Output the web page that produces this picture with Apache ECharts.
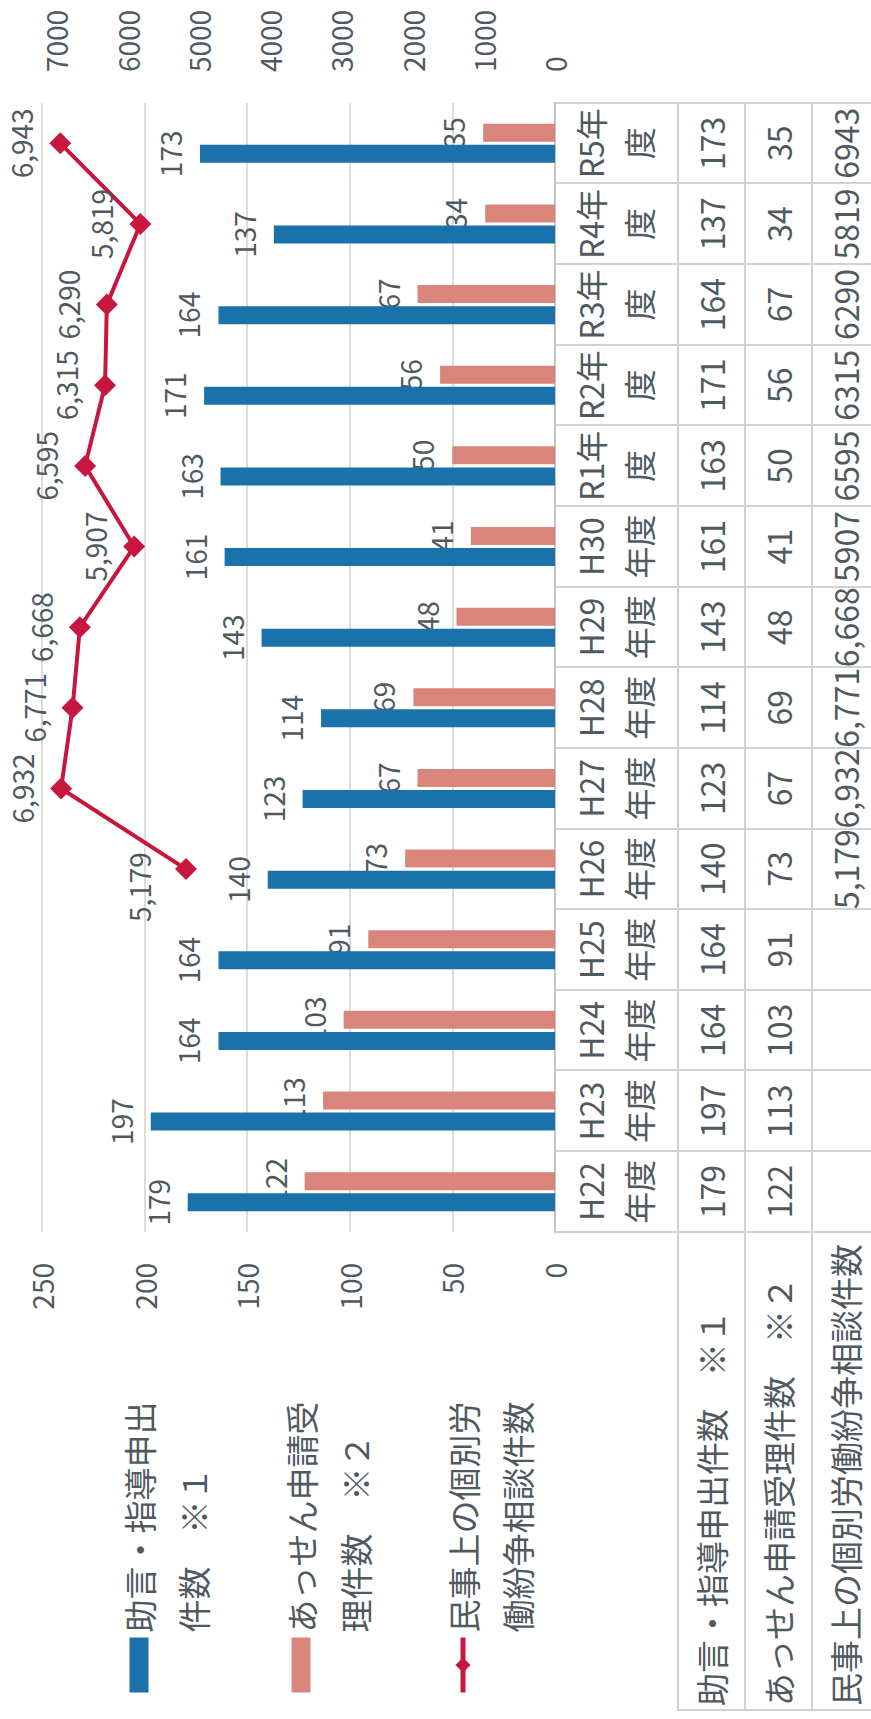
<!DOCTYPE html>
<html lang="ja">
<head>
<meta charset="utf-8">
<title>個別労働紛争解決制度の利用状況</title>
<script src="https://cdn.jsdelivr.net/npm/echarts@6/dist/echarts.min.js"></script>
<style>
  html, body { margin: 0; padding: 0; background: #ffffff; overflow: hidden; }
  #stage { position: relative; width: 871px; height: 1719px; overflow: hidden; }
  /* The chart is laid out in landscape and turned a quarter turn so it reads upward */
  #chart {
    position: absolute; left: 0; top: 0;
    width: 1719px; height: 871px;
    transform-origin: 0 0;
    transform: translate(0, 1719px) rotate(-90deg);
  }
</style>
</head>
<body>
<div id="stage"><div id="chart"></div></div>
<script>
// ---- data ----
const categories = ['H22年度', 'H23年度', 'H24年度', 'H25年度', 'H26年度', 'H27年度', 'H28年度',
                    'H29年度', 'H30年度', 'R1年度', 'R2年度', 'R3年度', 'R4年度', 'R5年度'];
const adviceCounts = [179, 197, 164, 164, 140, 123, 114, 143, 161, 163, 171, 164, 137, 173];
const mediationCounts = [122, 113, 103, 91, 73, 67, 69, 48, 41, 50, 56, 67, 34, 35];
const consultationCounts = [null, null, null, null, 5179, 6932, 6771, 6668, 5907, 6595, 6315, 6290, 5819, 6943];
const seriesNames = ['助言・指導申出件数　※１', 'あっせん申請受理件数　※２', '民事上の個別労働紛争相談件数'];
const leftTicks = { min: 0, max: 250, interval: 50 };
const rightTicks = { min: 0, max: 7200, interval: 1000 };
// years whose consultation count is written with a thousands separator in the table
const tableCommaYears = ['H26年度', 'H27年度', 'H28年度', 'H29年度'];

// ---- helpers ----
const withComma = v => String(v).replace(/\B(?=(\d{3})+(?!\d))/g, ',');
const wrapAt = (s, n) => s.slice(0, n) + '\n' + s.slice(n);
const tableRows = [
  adviceCounts.map(v => String(v)),
  mediationCounts.map(v => String(v)),
  consultationCounts.map((v, i) => v == null ? '' :
    (tableCommaYears.indexOf(categories[i]) >= 0 ? withComma(v) : String(v)))
];
const firstConsultIndex = consultationCounts.findIndex(v => v != null);

// ---- styling / layout ----
const TEXT = '#4f5a5f';
const FONT = '"Noto Sans CJK JP", "Noto Sans", sans-serif';
const BLUE = '#1b72ab';
const PINK = '#d9857c';
const RED = '#c8173f';
const GRID_LINE = '#dcdcdc';
const TABLE_LINE = '#d2d2d2';

const plotLeft = 487, plotWidth = 1129, plotTop = 42, plotHeight = 513;
const tableTop = plotTop + plotHeight;   // category header row starts at the axis line
const headerHeight = 123;
const rowHeight = 66.7;
const tableLeft = 9;
const legendLine = 54;

const grids = [
  // 0: plot area
  { left: plotLeft, top: plotTop, width: plotWidth, height: plotHeight },
  // 1: value cells of the data table (vertical cell borders)
  { left: plotLeft, top: tableTop, width: plotWidth, height: headerHeight + rowHeight * 3,
    show: true, borderColor: TABLE_LINE, borderWidth: 2 },
  // 2: full-width data rows with the row headers
  { left: tableLeft, top: tableTop + headerHeight, width: plotLeft + plotWidth - tableLeft, height: rowHeight * 3,
    show: true, borderColor: TABLE_LINE, borderWidth: 2 }
];
// 3..5: one strip per table row for the cell values
for (let r = 0; r < 3; r++) {
  grids.push({ left: plotLeft, top: tableTop + headerHeight + rowHeight * r, width: plotWidth, height: rowHeight });
}
grids.forEach(g => { g.containLabel = false; g.outerBoundsMode = 'none'; });

const xAxes = [
  {
    gridIndex: 0, type: 'category', data: categories,
    axisLine: { lineStyle: { color: '#c4c4c4', width: 2 } },
    axisTick: { show: false },
    axisLabel: {
      interval: 0, margin: 11, fontSize: 32, lineHeight: 48, color: TEXT,
      formatter: v => wrapAt(v, 3)
    }
  },
  {
    gridIndex: 1, type: 'category', data: categories, position: 'top',
    axisLine: { show: false }, axisTick: { show: false }, axisLabel: { show: false },
    splitLine: { show: true, interval: 0, lineStyle: { color: TABLE_LINE, width: 2 } }
  },
  { gridIndex: 2, type: 'value', show: false }
];
for (let r = 0; r < 3; r++) {
  xAxes.push({
    gridIndex: 3 + r, type: 'category', data: categories, position: 'top',
    axisLine: { show: false }, axisTick: { show: false }, splitLine: { show: false },
    axisLabel: {
      interval: 0, inside: true, margin: rowHeight / 2, verticalAlign: 'middle',
      fontSize: 32, color: TEXT, hideOverlap: false,
      formatter: (v, i) => tableRows[r][i]
    }
  });
}

const yAxes = [
  {
    gridIndex: 0, type: 'value', position: 'left',
    min: leftTicks.min, max: leftTicks.max, interval: leftTicks.interval,
    axisLine: { show: false }, axisTick: { show: false },
    axisLabel: { margin: 31, fontSize: 28, color: TEXT },
    splitLine: { lineStyle: { color: GRID_LINE, width: 2 } }
  },
  {
    gridIndex: 0, type: 'value', position: 'right',
    min: rightTicks.min, max: rightTicks.max, interval: rightTicks.interval,
    axisLine: { show: false }, axisTick: { show: false },
    axisLabel: { margin: 31, fontSize: 28, color: TEXT, showMaxLabel: false, formatter: v => String(v) },
    splitLine: { show: false }
  },
  { gridIndex: 1, type: 'value', show: false },
  {
    gridIndex: 2, type: 'category', data: seriesNames, inverse: true, position: 'left',
    axisLine: { show: false }, axisTick: { show: false },
    axisLabel: { inside: true, margin: 4, fontSize: 33, color: TEXT, interval: 0 },
    splitLine: { show: true, interval: 0, lineStyle: { color: TABLE_LINE, width: 2 } }
  }
];
for (let r = 0; r < 3; r++) {
  yAxes.push({ gridIndex: 3 + r, type: 'value', show: false });
}

const barLabel = { show: true, position: 'top', distance: 16, fontSize: 28, color: TEXT };

const option = {
  animation: false,
  backgroundColor: '#ffffff',
  textStyle: { fontFamily: FONT },
  grid: grids,
  xAxis: xAxes,
  yAxis: yAxes,
  legend: {
    orient: 'vertical', left: 19, top: 53,
    itemWidth: 55, itemHeight: 19, itemGap: 0,
    data: [
      { name: seriesNames[0], icon: 'rect' },
      { name: seriesNames[1], icon: 'rect' },
      { name: seriesNames[2], lineStyle: { width: 5 } }
    ],
    // an empty first line keeps the key level with the first line of each two-line name
    formatter: name => '\n' + wrapAt(name, 7),
    textStyle: { fontSize: 33, lineHeight: legendLine, color: TEXT }
  },
  series: [
    {
      name: seriesNames[0], type: 'bar', xAxisIndex: 0, yAxisIndex: 0,
      data: adviceCounts, barWidth: 18, barGap: '17%', z: 3,
      itemStyle: { color: BLUE },
      label: barLabel
    },
    {
      name: seriesNames[1], type: 'bar', xAxisIndex: 0, yAxisIndex: 0,
      data: mediationCounts, barWidth: 18, barGap: '17%', z: 2,
      itemStyle: { color: PINK },
      label: barLabel
    },
    {
      name: seriesNames[2], type: 'line', xAxisIndex: 0, yAxisIndex: 1,
      data: consultationCounts, z: 4,
      symbol: 'diamond', symbolSize: 22, showAllSymbol: true,
      lineStyle: { color: RED, width: 4 },
      itemStyle: { color: RED },
      label: {
        show: true, position: 'top', distance: 14, fontSize: 28, color: TEXT,
        formatter: p => withComma(p.value)
      },
      // the first point sits where the line climbs steeply; set its label off to the side
      labelLayout: p => p.dataIndex === firstConsultIndex ? { dx: -18, dy: -8 } : {}
    }
  ]
};

const chart = echarts.init(document.getElementById('chart'), null, { renderer: 'svg' });
chart.setOption(option);
</script>
</body>
</html>
